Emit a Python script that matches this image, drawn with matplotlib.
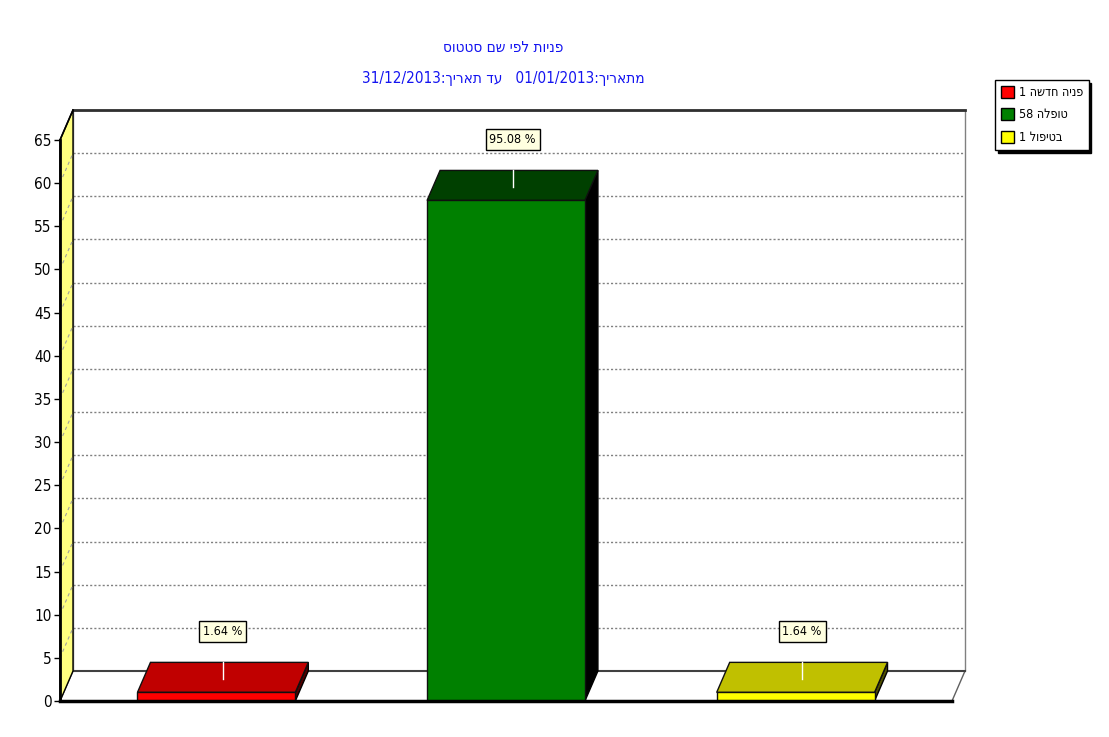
import re
import matplotlib
matplotlib.use("Agg")
import matplotlib.pyplot as plt
from matplotlib.patches import Polygon, Rectangle, Patch

# -------------------------------------------------
# Data
# -------------------------------------------------

categories = ["פניה חדשה", "טופלה", "בטיפול"]
counts = [1, 58, 1]
percent_labels = ["1.64 %", "95.08 %", "1.64 %"]

face_colors = ["#FF0000", "#008000", "#FFFF00"]
top_colors = ["#C00000", "#004000", "#C0C000"]
side_colors = ["#500000", "#000000", "#505000"]

y_ticks = list(range(0, 70, 5))
y_max = 65

title_line1 = "פניות לפי שם סטטוס"
title_line2 = "מתאריך:01/01/2013   עד תאריך:31/12/2013"

plt.rcParams["font.family"] = ["DejaVu Sans"]
plt.rcParams["font.stretch"] = "condensed"


def visual(s):
    # no bidi in matplotlib: flip the Hebrew, keep number runs left-to-right
    return re.sub(r"[0-9/.]+", lambda m: m.group()[::-1], s[::-1])


# -------------------------------------------------
# Figure / axes (front plane of the 3D box)
# -------------------------------------------------

W, H = 1109, 737
fig = plt.figure(figsize=(W / 100, H / 100), dpi=100)
ax = fig.add_axes([60 / W, (H - 701) / H, (952 - 60) / W, (701 - 140) / H])

x0, x1 = -0.54, 2.54
ax.set_xlim(x0, x1)
ax.set_ylim(0, y_max)
bar_w = 0.545

# depth offset of the back wall, in pixels -> data units
DEPTH_X, DEPTH_Y = 13, 30
bb = ax.get_window_extent()
dx = DEPTH_X * (x1 - x0) / bb.width
dy = DEPTH_Y * y_max / bb.height

for s in ax.spines.values():
    s.set_visible(False)
ax.set_xticks([])
ax.set_yticks(y_ticks)
ax.set_yticklabels([str(t) for t in y_ticks], fontsize=11)
ax.tick_params(axis="y", length=4, width=1, pad=2, colors="black")

# back wall
ax.add_patch(Polygon([(x0 + dx, dy), (x1 + dx, dy), (x1 + dx, y_max + dy), (x0 + dx, y_max + dy)],
                     closed=True, facecolor="white", edgecolor="#808080", lw=1, clip_on=False, zorder=1))
ax.plot([x0 + dx, x1 + dx], [y_max + dy, y_max + dy], color="#303030", lw=2, clip_on=False, zorder=2)

# floor
ax.add_patch(Polygon([(x0, 0), (x1, 0), (x1 + dx, dy), (x0 + dx, dy)],
                     closed=True, facecolor="white", edgecolor="#606060", lw=1, clip_on=False, zorder=1))
ax.plot([x0 + dx, x1 + dx], [dy, dy], color="#404040", lw=1.5, clip_on=False, zorder=2)

# gridlines on the back wall
for t in y_ticks[1:-1]:
    ax.plot([x0 + dx, x1 + dx], [t + dy, t + dy], color="#808080", lw=1,
            linestyle=(0, (1.5, 1.5)), clip_on=False, zorder=2)

# left wall
ax.add_patch(Polygon([(x0, 0), (x0 + dx, dy), (x0 + dx, y_max + dy), (x0, y_max)],
                     closed=True, facecolor="#FFFF80", edgecolor="black", lw=1, clip_on=False, zorder=3))
for t in y_ticks[1:-1]:
    ax.plot([x0, x0 + dx], [t, t + dy], color="#A0A0A0", lw=0.8,
            linestyle=(0, (3, 3)), clip_on=False, zorder=3)
ax.plot([x0, x0], [0, y_max], color="black", lw=2, clip_on=False, zorder=4)
ax.plot([x0, x0 + dx], [y_max, y_max + dy], color="black", lw=1.2, clip_on=False, zorder=4)

# front edge of the floor
ax.plot([x0, x1], [0, 0], color="black", lw=2.5, clip_on=False, zorder=6)

# -------------------------------------------------
# Bars
# -------------------------------------------------

for i, v in enumerate(counts):
    left, right = i - bar_w / 2, i + bar_w / 2
    ax.add_patch(Polygon([(right, 0), (right + dx, dy), (right + dx, v + dy), (right, v)],
                         closed=True, facecolor=side_colors[i], edgecolor="black", lw=1, zorder=5))
    ax.add_patch(Polygon([(left, v), (right, v), (right + dx, v + dy), (left + dx, v + dy)],
                         closed=True, facecolor=top_colors[i], edgecolor="#101010", lw=1, zorder=5))
    ax.add_patch(Rectangle((left, 0), bar_w, v, facecolor=face_colors[i],
                           edgecolor="#101010", lw=1, zorder=5))

    # white marker on the top face
    ax.plot([i + dx / 2, i + dx / 2], [v + dy * 13 / 30, v + dy], color="white", lw=1, zorder=6)

    ax.annotate(percent_labels[i], xy=(i + dx / 2, v), xytext=(0, 61 * 0.72),
                textcoords="offset points", ha="center", va="center", fontsize=9,
                bbox=dict(boxstyle="square,pad=0.3", fc="#FFFFE0", ec="black", lw=1),
                zorder=7, annotation_clip=False)

# -------------------------------------------------
# Title / legend
# -------------------------------------------------

fig.text(503 / W, 1 - 48 / H, visual(title_line1), color="#1414F0", ha="center", va="center",
         fontsize=11, fontweight="medium")
fig.text(503 / W, 1 - 78 / H, visual(title_line2), color="#1414F0", ha="center", va="center",
         fontsize=11, fontweight="medium")

handles = [Patch(facecolor=c, edgecolor="black") for c in face_colors]
labels = [visual(f"{c} {n}") for c, n in zip(categories, counts)]
fig.legend(handles, labels, loc="upper left", bbox_to_anchor=(995 / W, 1 - 80 / H),
           fontsize=9, frameon=True, fancybox=False, edgecolor="black", framealpha=1,
           shadow={"color": "black", "alpha": 1}, handlelength=1.1, handleheight=1.1,
           handletextpad=0.35, labelspacing=0.75, borderpad=0.45, borderaxespad=0)

fig.savefig("out.png", dpi=100)
